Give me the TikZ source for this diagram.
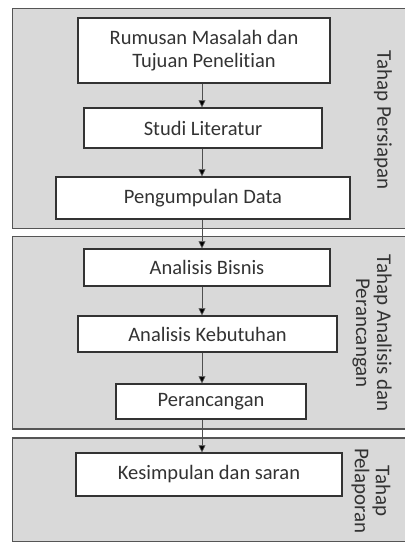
\documentclass[tikz,border=0pt]{standalone}
\usepackage{fontspec}
\setmainfont{Carlito}[Ligatures=NoCommon]
\usetikzlibrary{arrows.meta}
\definecolor{panelfill}{HTML}{D9D9D9}
\definecolor{panelline}{HTML}{555555}
\definecolor{boxline}{HTML}{333333}
\definecolor{arrline}{HTML}{505050}
\begin{document}
\begin{tikzpicture}[x=1pt,y=-1pt,
  panel/.style={fill=panelfill,draw=panelline,line width=1.8pt},
  stepbox/.style={draw=boxline,fill=white,line width=1.4pt,inner sep=0pt,align=center,
    font=\fontsize{20.5}{23}\selectfont,text=black!80},
  phase/.style={rotate=-90,align=center,inner sep=0pt,font=\fontsize{21}{21}\selectfont,text=black!80},
  arr/.style={draw=arrline,line width=0.7pt,-{Triangle[width=7pt,length=7pt,fill=black]}}]
\useasboundingbox (0,0) rectangle (404,543);
\fill[white] (0,0) rectangle (404,543);
% panels
\draw[panel] (12.5,8.5) rectangle (406,228.5);
\draw[panel] (12.5,236.5) rectangle (406,429);
\draw[panel] (12.5,438) rectangle (406,541.5);
% phase labels
\node[phase] (p1) at (383,120) {Tahap Persiapan};
\node[phase] (p2) at (372,333) {Tahap Analisis dan\\Perancangan};
\node[phase] (p3) at (371,491) {Tahap\\Pelaporan};
% boxes
\node[stepbox,minimum width=252pt,minimum height=65pt] (b1) at (204,50.5) {Rumusan Masalah dan\\Tujuan Penelitian};
\node[stepbox,minimum width=238pt,minimum height=40pt] (b2) at (203,128) {Studi Literatur};
\node[stepbox,minimum width=294pt,minimum height=42pt] (b3) at (203,198) {Pengumpulan Data};
\node[stepbox,minimum width=246pt,minimum height=37pt] (b4) at (207,267.5) {Analisis Bisnis};
\node[stepbox,minimum width=259pt,minimum height=36pt] (b5) at (207.5,334) {Analisis Kebutuhan};
\node[stepbox,minimum width=190pt,minimum height=35pt] (b6) at (211,401.5) {Perancangan};
\node[stepbox,minimum width=266pt,minimum height=43pt] (b7) at (209,474.5) {Kesimpulan dan saran};
% arrows
\coordinate (ax) at (202,0);
\draw[arr] (b1.south -| ax) -- (b2.north -| ax);
\draw[arr] (b2.south -| ax) -- (b3.north -| ax);
\draw[arr] (b3.south -| ax) -- (b4.north -| ax);
\draw[arr] (b4.south -| ax) -- (b5.north -| ax);
\draw[arr] (b5.south -| ax) -- (b6.north -| ax);
\draw[arr] (b6.south -| ax) -- (b7.north -| ax);
\end{tikzpicture}
\end{document}
